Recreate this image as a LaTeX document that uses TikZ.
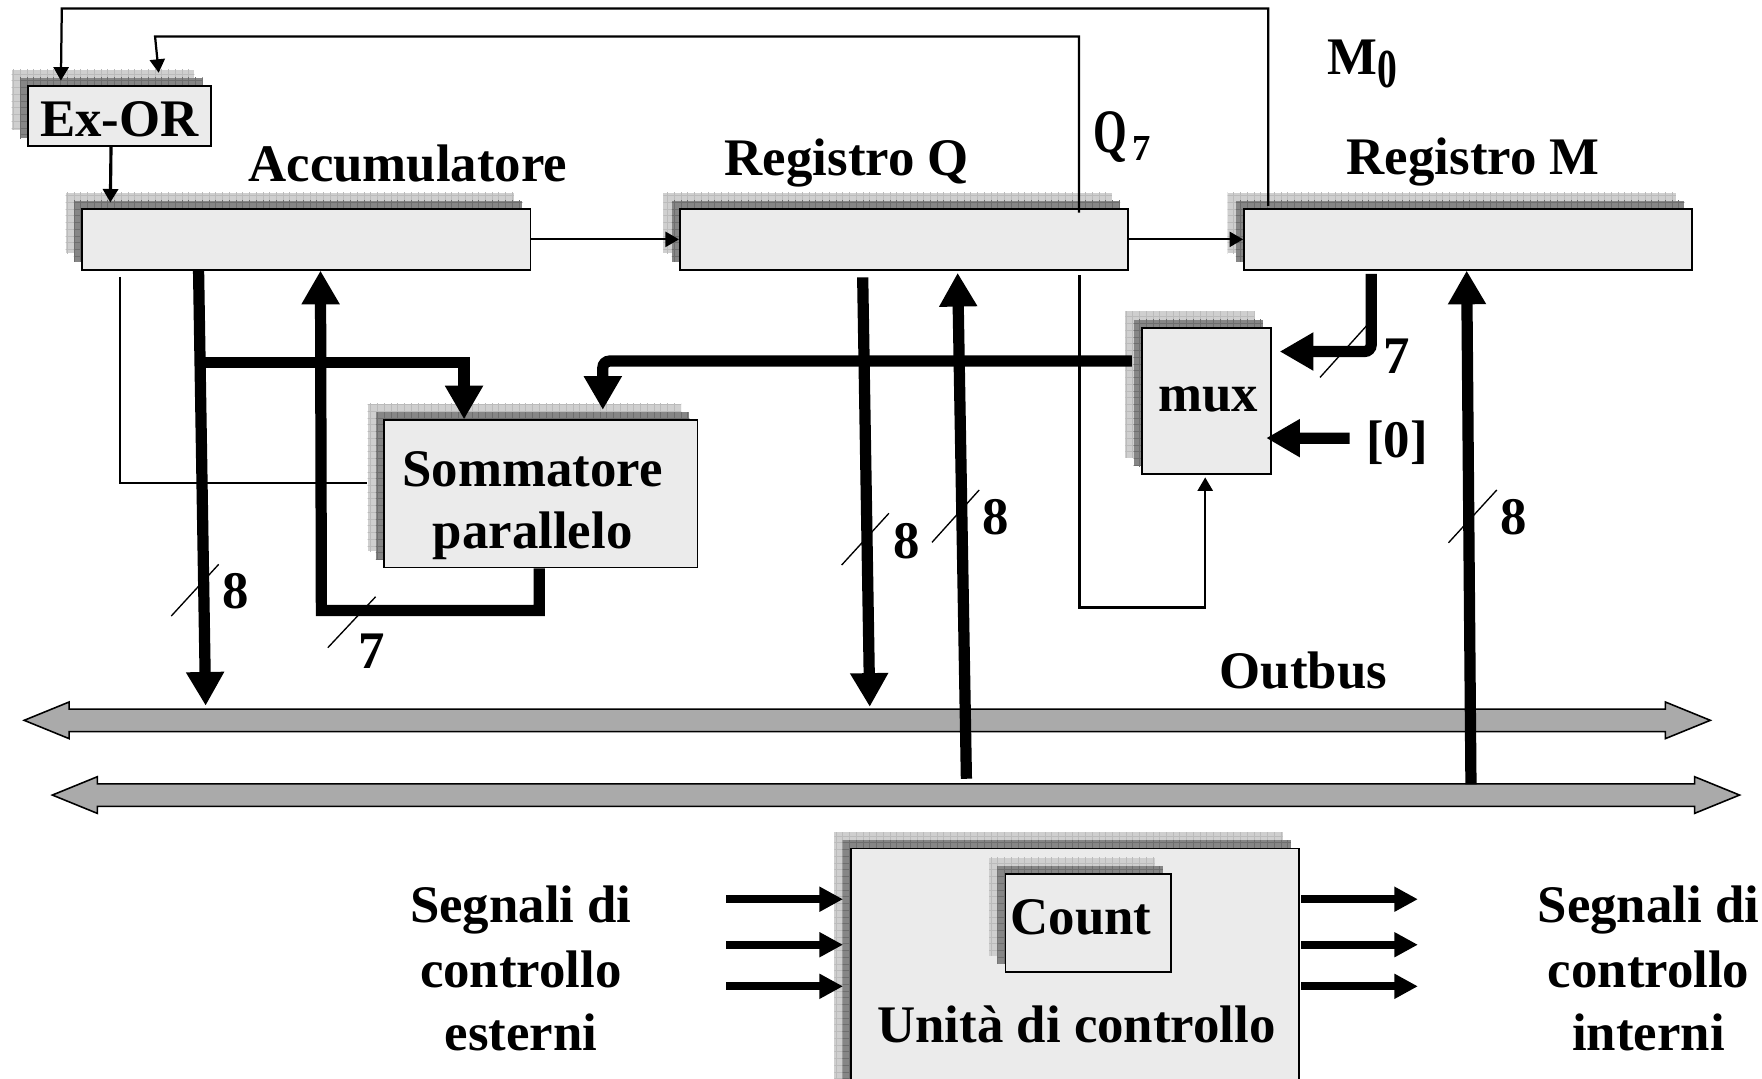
\documentclass[tikz,border=0pt]{standalone}
\usepackage{fontspec}
\setmainfont{Liberation Serif}
\usepackage{graphicx}
\usetikzlibrary{arrows.meta,shadows,calc,patterns}
\definecolor{boxfill}{HTML}{EBEBEB}
\definecolor{shlight}{HTML}{CFCFCF}
\definecolor{shlightgrid}{HTML}{BBBBBB}
\definecolor{shdark}{HTML}{868686}
\definecolor{shdarkgrid}{HTML}{6E6E6E}
\definecolor{busgrey}{HTML}{AAAAAA}
\tikzset{
  blk/.style={rectangle, draw=black, line width=0.8pt, fill=boxfill, inner sep=0pt,
    general shadow={fill=shlight, draw=none, shadow xshift=-7.3pt, shadow yshift=7.3pt},
    general shadow={pattern=grid, pattern color=shlightgrid, draw=none, shadow xshift=-7.3pt, shadow yshift=7.3pt},
    general shadow={fill=shdark, draw=none, shadow xshift=-3.6pt, shadow yshift=3.6pt},
    general shadow={pattern=grid, pattern color=shdarkgrid, draw=none, shadow xshift=-3.6pt, shadow yshift=3.6pt}},
  lbl/.style={font=\fontsize{23.5pt}{28pt}\selectfont\bfseries, inner sep=0pt, anchor=base},
  wire/.style={line width=1pt},
  wirearrow/.style={line width=1pt, -{Triangle[length=6pt,width=6.7pt]}},
  fatarrow/.style={line width=5pt, line join=miter, -{Triangle[length=15pt,width=16pt]}},
  ctrlarrow/.style={line width=3.7pt, -{Triangle[length=10.5pt,width=10.5pt]}},
  slashmark/.style={line width=0.6pt},
  busarrow/.style={draw=black, line width=0.7pt, fill=busgrey, line join=miter},
}
\begin{document}
\begin{tikzpicture}[x=0.5pt, y=-0.5pt]
\clip (0,0) rectangle (1568,960);

% blocks
\node[blk, minimum width=81.3pt, minimum height=26.75pt] (exor) at (106.3,103.3) {};
\node[blk, minimum width=199.5pt, minimum height=27pt] (acc) at (272.5,213) {};
\node[blk, minimum width=199.5pt, minimum height=27pt] (regq) at (804.5,213) {};
\node[blk, minimum width=199.5pt, minimum height=27pt] (regm) at (1306.5,213) {};
\node[blk, minimum width=139.5pt, minimum height=65.5pt] (somm) at (481.25,439.5) {};
\node[blk, minimum width=57.5pt, minimum height=65.2pt] (mux) at (1073.5,356.8) {};
\node[blk, minimum width=199.5pt, minimum height=117.5pt] (cu) at (956.5,872.5) {};
\node[blk, minimum width=73.65pt, minimum height=43.5pt] (count) at (968.35,821.5) {};

% buses
\draw[busarrow] (21.5,641) -- (61.5,624.7) -- (61.5,631) -- (1482,631) -- (1482,624.7)
  -- (1522,641) -- (1482,657.3) -- (1482,651) -- (61.5,651) -- (61.5,657.3) -- cycle;
\draw[busarrow] (46.6,707.5) -- (86.6,691.2) -- (86.6,697.5) -- (1508,697.5) -- (1508,691.2)
  -- (1548,707.5) -- (1508,723.8) -- (1508,717.5) -- (86.6,717.5) -- (86.6,723.8) -- cycle;

% thin connectors
\draw[wirearrow] ($(regm.north west)+(22.5,-2)$) |- (55,7.5) -- ($(exor.north west)+(30,-4)$);
\draw[wirearrow] ($(regq.north west)+(356,4)$) |- (138,32.5) -- ($(exor.north west)+(117,-11)$);
\draw[line width=1.4pt, -{Triangle[length=6pt,width=6.7pt]}] ($(exor.south)+(-7.5,0)$) -- ($(acc.north west)+(26,-5)$);
\draw[wirearrow] (acc.east) -- (regq.west);
\draw[wirearrow] (regq.east) -- (regm.west);
\draw[wire] ($(acc.south west)+(34.3,5.6)$) |- ($(somm.west)+(-14.5,-9.5)$);
\draw[wirearrow] ($(regq.south west)+(356.5,4)$) |- (1072.5,540.5) -- ($(mux.south)+(-1,2)$);

% thick connectors
\draw[fatarrow] ($(acc.south west)+(104.5,0)$) -- (183,628);
\draw[fatarrow] (178.7,322.8) -| ($(somm.north west)+(72,0)$);
\draw[fatarrow] ($(somm.south west)+(139,0)$) |- (286,543.3) -- ($(acc.south west)+(213,0)$);
\draw[fatarrow, rounded corners=3pt] ($(mux.west)+(-8,-35.5)$) -| ($(somm.north west)+(195.5,-8.5)$);
\draw[fatarrow] ($(regq.south west)+(163.5,6)$) -- (774,629);
\draw[fatarrow] (860,693) -- ($(regq.south west)+(248,2)$);
\draw[fatarrow, rounded corners=3pt] ($(regm.south west)+(114,3)$) |- ($(mux.east)+(7,-44)$);
\draw[fatarrow] (1201,390) -- ($(mux.east)+(-5,33)$);
\draw[fatarrow] (1309,698) -- ($(regm.south west)+(199,0)$);

% control signals
\foreach \dy in {46,86.5,123.5} {
  \draw[ctrlarrow] ($(cu.north west)+(-110,\dy)$) -- ($(cu.north west)+(-6,\dy)$);
  \draw[ctrlarrow] ($(cu.north east)+(1,\dy)$) -- ($(cu.north east)+(105,\dy)$);
}

% bus width marks
\draw[slashmark] (152.4,548.2) -- (194.6,502.2);
\draw[slashmark] (291.7,576.4) -- (334.3,531);
\draw[slashmark] (749,502.8) -- (791,456.8);
\draw[slashmark] (829.4,482.6) -- (871.4,436);
\draw[slashmark] (1289,483) -- (1332,436);
\draw[slashmark] (1174.7,335.8) -- (1216,290);

% texts
\node[lbl] (t-exor) at (106.4,121.6) {Ex-OR};
\node[lbl] (t-acc) at (363,161.7) {Accumulatore};
\node[lbl] (t-regq) at (753.6,156.6) {Registro Q};
\node[lbl, anchor=base west] (t-q7) at (973,136) {\scalebox{0.82}[1.17]{Q}\kern2pt\raisebox{-3.2pt}{\fontsize{16.3pt}{18pt}\selectfont\bfseries 7}};
\node[lbl, anchor=base west] (t-m0) at (1181,66.7) {M\raisebox{-5.5pt}{\scalebox{0.75}[1.04]{0}}};
\node[lbl] (t-regm) at (1311,154.9) {Registro M};
\node[lbl] (t-somm1) at (474,432.5) {Sommatore};
\node[lbl] (t-somm2) at (474,488) {parallelo};
\node[lbl] (t-mux) at (1075,366) {mux};
\node[lbl] (t-m7) at (1243,332) {7};
\node[lbl] (t-zero) at (1243,407) {[0]};
\node[lbl] (t-8a) at (210,541.4) {8};
\node[lbl] (t-7b) at (331,594.5) {7};
\node[lbl] (t-8c) at (806.5,497) {8};
\node[lbl] (t-8d) at (886,476) {8};
\node[lbl] (t-8e) at (1347,476) {8};
\node[lbl] (t-outbus) at (1160,612.5) {Outbus};
\node[lbl] (t-count) at (962,832) {Count};
\node[lbl] (t-cu) at (958,928) {Unità di controllo};
\node[lbl] (t-ext1) at (463.5,821) {Segnali di};
\node[lbl] (t-ext2) at (463.5,879) {controllo};
\node[lbl] (t-ext3) at (463.5,935) {esterni};
\node[lbl] (t-int1) at (1467,821) {Segnali di};
\node[lbl] (t-int2) at (1467,879) {controllo};
\node[lbl] (t-int3) at (1467,935) {interni};
\end{tikzpicture}
\end{document}
